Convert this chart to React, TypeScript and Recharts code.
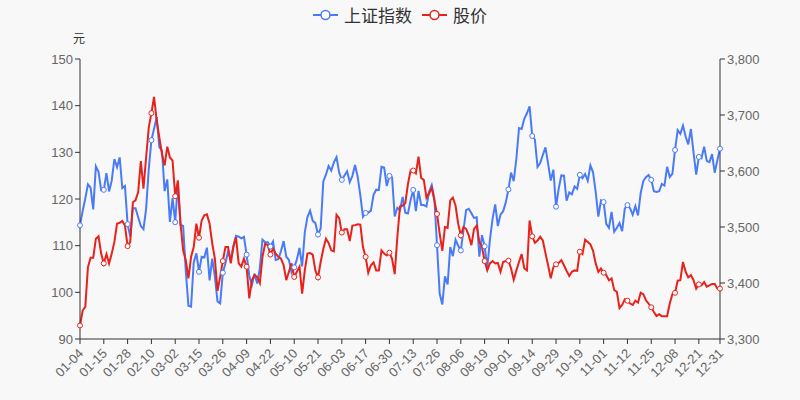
import { LineChart, Line, XAxis, YAxis } from 'recharts';

// 2021 trading days (MM-DD)
const dates = [
  '01-04', '01-05', '01-06', '01-07', '01-08', '01-11', '01-12', '01-13', '01-14', '01-15',
  '01-18', '01-19', '01-20', '01-21', '01-22', '01-25', '01-26', '01-27', '01-28', '01-29',
  '02-01', '02-02', '02-03', '02-04', '02-05', '02-08', '02-09', '02-10', '02-18', '02-19',
  '02-22', '02-23', '02-24', '02-25', '02-26',
  '03-01', '03-02', '03-03', '03-04', '03-05', '03-08', '03-09', '03-10', '03-11', '03-12',
  '03-15', '03-16', '03-17', '03-18', '03-19', '03-22', '03-23', '03-24', '03-25', '03-26',
  '03-29', '03-30', '03-31',
  '04-01', '04-02', '04-06', '04-07', '04-08', '04-09', '04-12', '04-13', '04-14', '04-15',
  '04-16', '04-19', '04-20', '04-21', '04-22', '04-23', '04-26', '04-27', '04-28', '04-29', '04-30',
  '05-06', '05-07', '05-10', '05-11', '05-12', '05-13', '05-14', '05-17', '05-18', '05-19',
  '05-20', '05-21', '05-24', '05-25', '05-26', '05-27', '05-28', '05-31',
  '06-01', '06-02', '06-03', '06-04', '06-07', '06-08', '06-09', '06-10', '06-11', '06-15',
  '06-16', '06-17', '06-18', '06-21', '06-22', '06-23', '06-24', '06-25', '06-28', '06-29', '06-30',
  '07-01', '07-02', '07-05', '07-06', '07-07', '07-08', '07-09', '07-12', '07-13', '07-14',
  '07-15', '07-16', '07-19', '07-20', '07-21', '07-22', '07-23', '07-26', '07-27', '07-28',
  '07-29', '07-30',
  '08-02', '08-03', '08-04', '08-05', '08-06', '08-09', '08-10', '08-11', '08-12', '08-13',
  '08-16', '08-17', '08-18', '08-19', '08-20', '08-23', '08-24', '08-25', '08-26', '08-27',
  '08-30', '08-31',
  '09-01', '09-02', '09-03', '09-06', '09-07', '09-08', '09-09', '09-10', '09-13', '09-14',
  '09-15', '09-16', '09-17', '09-22', '09-23', '09-24', '09-27', '09-28', '09-29', '09-30',
  '10-08', '10-11', '10-12', '10-13', '10-14', '10-15', '10-18', '10-19', '10-20', '10-21',
  '10-22', '10-25', '10-26', '10-27', '10-28', '10-29',
  '11-01', '11-02', '11-03', '11-04', '11-05', '11-08', '11-09', '11-10', '11-11', '11-12',
  '11-15', '11-16', '11-17', '11-18', '11-19', '11-22', '11-23', '11-24', '11-25', '11-26',
  '11-29', '11-30',
  '12-01', '12-02', '12-03', '12-06', '12-07', '12-08', '12-09', '12-10', '12-13', '12-14',
  '12-15', '12-16', '12-17', '12-20', '12-21', '12-22', '12-23', '12-24', '12-27', '12-28',
  '12-29', '12-30', '12-31',
];

// 上证指数 (right axis)
const shIndex = [
  3502.96, 3528.68, 3550.88, 3576.21, 3570.11, 3531.5, 3608.34, 3598.65, 3565.9, 3566.38,
  3596.22, 3563.57, 3583.09, 3621.26, 3606.75, 3624.24, 3569.43, 3573.34, 3505.18, 3483.07,
  3533.68, 3533.67, 3517.31, 3501.86, 3496.33, 3532.44, 3603.49, 3655.09, 3675.36, 3696.17,
  3642.44, 3636.36, 3564.08, 3585.05, 3509.08,
  3551.4, 3508.59, 3576.9, 3503.49, 3501.99, 3421.41, 3359.29, 3357.74, 3436.83, 3453.08,
  3419.95, 3446.73, 3445.55, 3463.07, 3404.66, 3443.44, 3411.51, 3367.06, 3363.59, 3418.33,
  3435.3, 3456.68, 3441.91,
  3466.33, 3484.39, 3482.59, 3479.63, 3482.48, 3450.68, 3412.95, 3396.47, 3416.63, 3398.99,
  3426.62, 3477.55, 3472.94, 3472.93, 3465.11, 3474.17, 3441.17, 3442.61, 3457.07, 3474.9, 3446.86,
  3441.28, 3418.87, 3427.99, 3441.85, 3462.75, 3429.54, 3490.38, 3517.62, 3529.01, 3510.96,
  3506.94, 3486.56, 3497.28, 3581.34, 3593.36, 3608.85, 3600.78, 3615.48,
  3624.71, 3597.14, 3584.22, 3591.84, 3599.54, 3580.11, 3591.4, 3610.86, 3589.75, 3556.56,
  3518.33, 3525.1, 3525.6, 3529.18, 3557.41, 3566.65, 3566.22, 3607.56, 3606.37, 3573.18, 3591.2,
  3588.78, 3518.76, 3534.32, 3530.26, 3553.72, 3525.5, 3524.09, 3547.84, 3566.22, 3528.5,
  3564.59, 3539.3, 3539.12, 3536.79, 3562.7, 3574.73, 3550.4, 3467.44, 3381.18, 3361.59,
  3411.72, 3397.36,
  3464.29, 3447.99, 3477.22, 3466.56, 3458.23, 3494.63, 3529.93, 3532.62, 3524.74, 3516.3,
  3517.35, 3446.98, 3485.29, 3465.55, 3427.33, 3477.13, 3514.47, 3540.38, 3501.66, 3522.16,
  3528.15, 3543.94,
  3567.1, 3597.04, 3581.73, 3621.86, 3676.59, 3675.19, 3693.13, 3703.11, 3715.37, 3662.6,
  3656.22, 3607.09, 3613.97, 3628.49, 3642.22, 3613.07, 3582.83, 3602.22, 3536.29, 3568.17,
  3592.17, 3591.71, 3546.94, 3561.76, 3558.28, 3572.37, 3568.14, 3593.15, 3587.0, 3594.78,
  3582.6, 3609.86, 3597.64, 3562.31, 3518.42, 3547.34,
  3544.48, 3505.63, 3498.54, 3526.87, 3491.57, 3498.63, 3507.0, 3492.46, 3532.79, 3539.1,
  3533.3, 3521.79, 3537.37, 3520.71, 3560.37, 3582.08, 3589.09, 3592.7, 3584.18, 3564.09,
  3562.7, 3563.89,
  3576.89, 3573.84, 3607.43, 3589.31, 3595.09, 3637.57, 3673.04, 3666.35, 3681.08, 3661.53,
  3647.63, 3675.02, 3632.36, 3593.6, 3625.13, 3622.62, 3643.34, 3618.05, 3615.97, 3630.11,
  3597.0, 3619.19, 3639.78,
];

// 股价 (left axis, 元)
const stockPrice = [
  92.9, 96.1, 96.9, 105.4, 107.4, 107.4, 111.5, 112.0, 108.3, 106.2,
  108.2, 106.2, 108.3, 110.8, 114.7, 114.9, 115.3, 114.3, 109.9, 110.8,
  119.3, 119.7, 121.5, 128.1, 122.2, 128.9, 135.3, 138.4, 141.9, 136.8,
  133.2, 129.6, 127.2, 131.2, 128.9,
  128.2, 120.6, 124.0, 114.7, 109.0, 106.9, 103.0, 107.6, 109.7, 114.7,
  111.7, 115.4, 116.5, 116.7, 114.7, 110.5, 107.2, 100.3, 103.3, 106.7,
  109.7, 109.7, 106.2,
  109.7, 111.8, 106.2, 105.5, 107.2, 105.5, 98.7, 102.6, 103.7, 103.3,
  102.0, 107.6, 110.4, 110.1, 108.1, 109.4, 108.3, 107.6, 107.2, 105.8, 102.6,
  104.4, 106.2, 103.3, 104.4, 105.5, 99.7, 104.7, 108.3, 108.4, 108.1,
  104.7, 103.2, 106.5, 109.3, 111.5, 110.6, 109.0, 108.8,
  116.6, 115.9, 112.8, 113.5, 113.5, 111.0, 114.3, 114.4, 114.6, 114.5,
  109.7, 107.6, 104.2, 105.8, 106.4, 104.7, 104.7, 109.0, 108.3, 107.9, 108.5,
  107.2, 103.9, 111.9, 118.4, 118.6, 119.1, 123.2, 126.1, 126.1, 125.5,
  129.1, 124.5, 124.1, 120.3, 121.2, 122.4, 119.7, 116.8, 112.6, 108.9,
  114.0, 113.8,
  119.7, 120.3, 118.6, 114.7, 112.2, 114.0, 113.6, 112.2, 110.1, 113.6,
  114.3, 110.8, 109.7, 106.7, 104.7, 106.2, 106.7, 106.2, 106.3, 104.4,
  106.5, 106.7,
  106.8, 105.1, 102.7, 104.7, 106.5, 108.2, 105.1, 104.7, 115.4, 112.0,
  110.6, 111.1, 111.9, 111.1, 108.4, 105.8, 103.0, 105.4, 106.0, 106.3,
  106.9, 105.8, 104.6, 103.5, 104.4, 104.7, 104.6, 108.7, 108.2, 111.3,
  110.8, 110.3, 108.9, 106.2, 104.4, 105.1,
  104.2, 103.7, 102.6, 103.0, 100.5, 100.1, 96.6, 97.3, 98.5, 98.2,
  97.6, 97.3, 98.2, 97.8, 99.9, 99.6, 98.3, 97.6, 96.8, 95.8,
  94.9, 95.3,
  94.9, 94.9, 94.9, 97.6, 99.6, 99.9, 102.5, 102.6, 106.5, 104.4,
  103.2, 103.7, 102.6, 100.8, 101.7, 101.5, 102.2, 101.2, 101.5, 101.8,
  101.8, 100.8, 100.8,
];

// x-axis labels shown (also where the hollow markers sit)
const tickDates = [
  '01-04', '01-15', '01-28', '02-10', '03-02', '03-15', '03-26', '04-09', '04-22', '05-10',
  '05-21', '06-03', '06-17', '06-30', '07-13', '07-26', '08-06', '08-19', '09-01', '09-14',
  '09-29', '10-19', '11-01', '11-12', '11-25', '12-08', '12-21', '12-31',
];

const leftTicks = [90, 100, 110, 120, 130, 140, 150];
const rightTicks = [3300, 3400, 3500, 3600, 3700, 3800];

const BLUE = '#4a7bf6';
const RED = '#e8221b';
const AXIS = '#333';
const LABEL = '#666';

const data = dates.map((d, i) => ({ date: d, sh: shIndex[i], price: stockPrice[i] }));
const markerSet = new Set(tickDates);

const makeDot = (color: string) => (props: any) => {
  const { cx, cy, payload, index } = props;
  if (!markerSet.has(payload.date)) return <g key={`dot-${index}`} />;
  return (
    <circle key={`dot-${index}`} cx={cx} cy={cy} r={2.5} fill="#fff" stroke={color} strokeWidth={1} />
  );
};

// rotated date label, its end sits just under the tick
const DateTick = ({ x, y, payload }: any) => (
  <g transform={`translate(${x + 1},${y + 5})`}>
    <text x={0} y={0} dy={4.5} transform="rotate(-45)" textAnchor="end" fill={LABEL} fontSize={13}>
      {payload.value}
    </text>
  </g>
);

const LegendItem = ({ color, label }: { color: string; label: string }) => (
  <div style={{ display: 'flex', alignItems: 'center', marginRight: 10 }}>
    <svg width={25} height={14} style={{ marginRight: 6 }}>
      <line x1={0} y1={7} x2={25} y2={7} stroke={color} strokeWidth={2} />
      <circle cx={12.5} cy={7} r={4.5} fill="#fff" stroke={color} strokeWidth={1.5} />
    </svg>
    <span>{label}</span>
  </div>
);

export default function App() {
  return (
    <div
      style={{
        position: 'relative',
        width: 800,
        height: 400,
        background: '#f8f8f8',
        fontFamily: '"Liberation Sans", Arial, "Noto Sans CJK SC", sans-serif',
      }}
    >
      <style>{'body{margin:0}'}</style>
      <div
        style={{
          position: 'absolute',
          top: 2,
          left: 0,
          width: 800,
          display: 'flex',
          justifyContent: 'center',
          fontSize: 17,
          color: '#333',
          fontFamily: '"Noto Sans CJK SC", sans-serif',
          paddingLeft: 10,
          boxSizing: 'border-box',
        }}
      >
        <LegendItem color={BLUE} label="上证指数" />
        <LegendItem color={RED} label="股价" />
      </div>
      <div
        style={{
          position: 'absolute',
          top: 29,
          left: 73,
          fontSize: 12,
          color: '#333',
          fontFamily: '"Noto Sans CJK SC", sans-serif',
        }}
      >
        元
      </div>
      <LineChart width={800} height={400} data={data} margin={{ top: 59, right: 20, bottom: 0, left: 20 }}>
        <XAxis
          dataKey="date"
          ticks={tickDates}
          interval={0}
          height={61}
          tickSize={5}
          axisLine={{ stroke: AXIS }}
          tickLine={{ stroke: AXIS }}
          tick={<DateTick />}
        />
        <YAxis
          yAxisId="left"
          domain={[90, 150]}
          ticks={leftTicks}
          width={60}
          tickSize={5}
          axisLine={{ stroke: AXIS }}
          tickLine={{ stroke: AXIS }}
          tick={{ fill: LABEL, fontSize: 13 }}
        />
        <YAxis
          yAxisId="right"
          orientation="right"
          domain={[3300, 3800]}
          ticks={rightTicks}
          width={60}
          tickSize={5}
          axisLine={{ stroke: AXIS }}
          tickLine={{ stroke: AXIS }}
          tick={{ fill: LABEL, fontSize: 13 }}
          tickFormatter={(v: number) => v.toLocaleString('en-US')}
        />
        <Line
          yAxisId="right"
          type="linear"
          dataKey="sh"
          stroke={BLUE}
          strokeWidth={2}
          dot={makeDot(BLUE)}
          activeDot={false}
          isAnimationActive={false}
        />
        <Line
          yAxisId="left"
          type="linear"
          dataKey="price"
          stroke={RED}
          strokeWidth={2}
          dot={makeDot(RED)}
          activeDot={false}
          isAnimationActive={false}
        />
      </LineChart>
    </div>
  );
}
